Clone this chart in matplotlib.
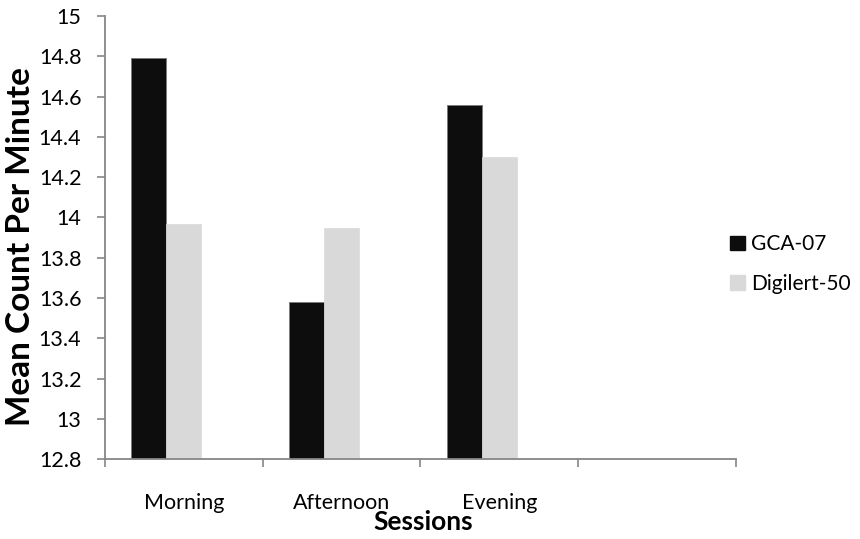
import numpy as np
import matplotlib.pyplot as plt
from matplotlib.patches import Patch

sessions = ["Morning", "Afternoon", "Evening", ""]
gca_07 = [14.79, 13.58, 14.56]
digilert_50 = [13.97, 13.95, 14.30]
series_names = ["GCA-07", "Digilert-50"]
y_ticks = [12.8, 13, 13.2, 13.4, 13.6, 13.8, 14, 14.2, 14.4, 14.6, 14.8, 15]

plt.rcParams['font.family'] = ['Lato', 'DejaVu Sans']
axis_grey = '#868686'
dark = '#0d0d0d'
light = '#d9d9d9'

fig = plt.figure(figsize=(8.6, 5.39), dpi=100)
ax = fig.add_axes([0.1221, 0.1479, 0.7334, 0.8224])

w = 0.222
x = np.arange(len(gca_07))
ax.bar(x - w, gca_07, width=w, color=dark, edgecolor='#7a7a7a', linewidth=0.7, zorder=2)
ax.bar(x, digilert_50, width=w, color=light, edgecolor=light, linewidth=0.5, zorder=2)

ax.set_ylim(12.8, 15)
ax.set_xlim(-0.5, len(sessions) - 0.5)
ax.set_yticks(y_ticks)
ax.set_yticklabels([f"{t:g}" for t in y_ticks], fontsize=15.5)

# category labels centred, ticks on the boundaries
ax.set_xticks(np.arange(len(sessions)))
ax.set_xticklabels(sessions, fontsize=15.5)
ax.tick_params(axis='x', which='major', length=0, pad=24)
ax.set_xticks(np.arange(len(sessions) + 1) - 0.5, minor=True)
ax.tick_params(axis='x', which='minor', length=6, width=1.2, color=axis_grey, direction='out')
ax.tick_params(axis='y', length=6, width=1.2, color=axis_grey, direction='out', pad=11)

for side in ['top', 'right']:
    ax.spines[side].set_visible(False)
for side in ['left', 'bottom']:
    ax.spines[side].set_color(axis_grey)
    ax.spines[side].set_linewidth(1.3)

ax.set_ylabel("Mean Count Per Minute", fontsize=24, fontweight='bold', va='center')
ax.yaxis.set_label_coords(-0.134, 0.479)
ax.set_xlabel("Sessions", fontsize=19, fontweight='bold', va='top')
ax.xaxis.set_label_coords(0.505, -0.115)

handles = [Patch(facecolor=dark, edgecolor=dark), Patch(facecolor=light, edgecolor=light)]
fig.legend(handles, series_names, loc='center left', bbox_to_anchor=(0.827, 0.51),
           frameon=False, fontsize=15, handlelength=0.7, handleheight=0.7,
           handletextpad=0.3, labelspacing=0.95)

fig.savefig("out.png", dpi=100)
